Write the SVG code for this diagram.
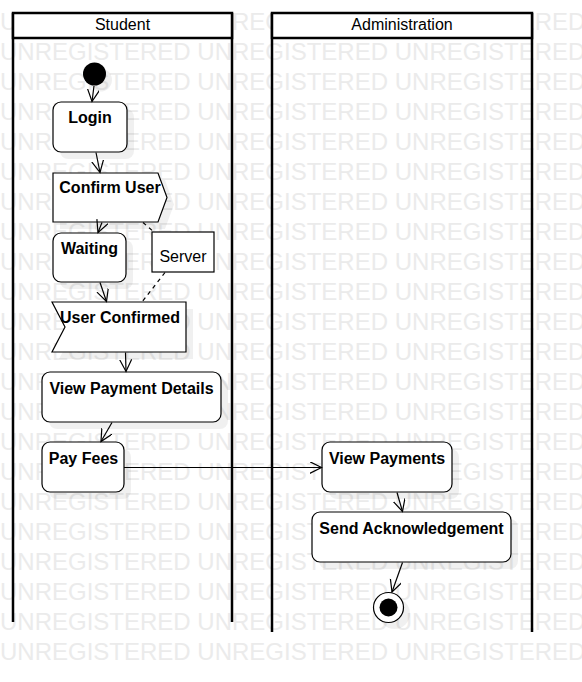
<svg xmlns="http://www.w3.org/2000/svg" width="582" height="682" viewBox="0 0 582 682">
<style>
.wm{font-family:"Liberation Sans",Arial,sans-serif;font-size:24px;fill:#ebebeb}
.lane{fill:none;stroke:#000;stroke-width:2.5}
.hdr{fill:#fff;stroke:#000;stroke-width:2.5}
.ht{font-family:"Liberation Sans",Arial,sans-serif;font-size:16px;fill:#000;text-anchor:middle}
.node{fill:#fff;stroke:#000;stroke-width:1.2}
.shd{fill:#000;fill-opacity:0.06;stroke:none}
.nt{font-family:"Liberation Sans",Arial,sans-serif;font-size:16px;font-weight:bold;fill:#000;text-anchor:middle}
.st{font-family:"Liberation Sans",Arial,sans-serif;font-size:16px;fill:#000;text-anchor:middle}
.edge{fill:none;stroke:#000;stroke-width:1.2}
.dash{fill:none;stroke:#000;stroke-width:1.2;stroke-dasharray:4 4}
</style>
<defs>
<marker id="arr" markerUnits="userSpaceOnUse" markerWidth="14" markerHeight="14" refX="12" refY="6" orient="auto">
<path d="M0,0 L12,6 L0,12" fill="none" stroke="#000" stroke-width="1.2"/>
</marker>
</defs>
<rect width="582" height="682" fill="#fff"/>
<g id="watermark">
<text class="wm" x="0" y="30">UNREGISTERED UNREGISTERED UNREGISTERED</text>
<text class="wm" x="0" y="60">UNREGISTERED UNREGISTERED UNREGISTERED</text>
<text class="wm" x="0" y="90">UNREGISTERED UNREGISTERED UNREGISTERED</text>
<text class="wm" x="0" y="120">UNREGISTERED UNREGISTERED UNREGISTERED</text>
<text class="wm" x="0" y="150">UNREGISTERED UNREGISTERED UNREGISTERED</text>
<text class="wm" x="0" y="180">UNREGISTERED UNREGISTERED UNREGISTERED</text>
<text class="wm" x="0" y="210">UNREGISTERED UNREGISTERED UNREGISTERED</text>
<text class="wm" x="0" y="240">UNREGISTERED UNREGISTERED UNREGISTERED</text>
<text class="wm" x="0" y="270">UNREGISTERED UNREGISTERED UNREGISTERED</text>
<text class="wm" x="0" y="300">UNREGISTERED UNREGISTERED UNREGISTERED</text>
<text class="wm" x="0" y="330">UNREGISTERED UNREGISTERED UNREGISTERED</text>
<text class="wm" x="0" y="360">UNREGISTERED UNREGISTERED UNREGISTERED</text>
<text class="wm" x="0" y="390">UNREGISTERED UNREGISTERED UNREGISTERED</text>
<text class="wm" x="0" y="420">UNREGISTERED UNREGISTERED UNREGISTERED</text>
<text class="wm" x="0" y="450">UNREGISTERED UNREGISTERED UNREGISTERED</text>
<text class="wm" x="0" y="480">UNREGISTERED UNREGISTERED UNREGISTERED</text>
<text class="wm" x="0" y="510">UNREGISTERED UNREGISTERED UNREGISTERED</text>
<text class="wm" x="0" y="540">UNREGISTERED UNREGISTERED UNREGISTERED</text>
<text class="wm" x="0" y="570">UNREGISTERED UNREGISTERED UNREGISTERED</text>
<text class="wm" x="0" y="600">UNREGISTERED UNREGISTERED UNREGISTERED</text>
<text class="wm" x="0" y="630">UNREGISTERED UNREGISTERED UNREGISTERED</text>
<text class="wm" x="0" y="660">UNREGISTERED UNREGISTERED UNREGISTERED</text>
</g>
<g id="lane-student">
<path class="lane" d="M13,13 V622 M232,13 V622"/>
<rect class="hdr" x="13" y="13" width="219" height="25"/>
<text class="ht" x="122.5" y="30">Student</text>
</g>
<g id="lane-administration">
<path class="lane" d="M272,13 V632 M532,13 V632"/>
<rect class="hdr" x="272" y="13" width="260" height="25"/>
<text class="ht" x="402" y="30">Administration</text>
</g>
<g id="start">
<circle cx="100.5" cy="80" r="11.5" class="shd"/>
<circle cx="94.5" cy="74" r="11.5" fill="#000"/>
</g>
<g id="login">
<rect class="shd" x="60" y="109" width="74" height="50" rx="8"/>
<rect class="node" x="53" y="102" width="74" height="50" rx="8"/>
<text class="nt" x="90" y="123">Login</text>
</g>
<g id="confirm-user">
<path class="shd" d="M60,180 H165 L174,204.5 L165,229 H60 Z"/>
<path class="node" d="M53,173 H158 L167,197.5 L158,222 H53 Z"/>
<text class="nt" x="110" y="192.5">Confirm User</text>
</g>
<g id="waiting">
<rect class="shd" x="60" y="240" width="73" height="49" rx="8"/>
<rect class="node" x="53" y="233" width="73" height="49" rx="8"/>
<text class="nt" x="89.5" y="253.5">Waiting</text>
</g>
<g id="server">
<rect class="node" x="152" y="232" width="62" height="40"/>
<text class="st" x="183" y="262">Server</text>
</g>
<g id="user-confirmed">
<path class="shd" d="M59,309 H193 V359 H59 L72,334 Z"/>
<path class="node" d="M52,302 H186 V352 H52 L65,327 Z"/>
<text class="nt" x="120" y="322.5">User Confirmed</text>
</g>
<g id="view-payment-details">
<rect class="shd" x="49" y="379" width="179" height="50" rx="8"/>
<rect class="node" x="42" y="372" width="179" height="50" rx="8"/>
<text class="nt" x="131.5" y="393.5">View Payment Details</text>
</g>
<g id="pay-fees">
<rect class="shd" x="49" y="449" width="82" height="50" rx="8"/>
<rect class="node" x="42" y="442" width="82" height="50" rx="8"/>
<text class="nt" x="83.5" y="463.5">Pay Fees</text>
</g>
<g id="view-payments">
<rect class="shd" x="329" y="449" width="130" height="50" rx="8"/>
<rect class="node" x="322" y="442" width="130" height="50" rx="8"/>
<text class="nt" x="387" y="463.5">View Payments</text>
</g>
<g id="send-acknowledgement">
<rect class="shd" x="319" y="519" width="199" height="50" rx="8"/>
<rect class="node" x="312" y="512" width="199" height="50" rx="8"/>
<text class="nt" x="411.5" y="533.5">Send Acknowledgement</text>
</g>
<g id="end">
<circle cx="394.5" cy="613.5" r="15.5" class="shd"/>
<circle cx="388.5" cy="607.5" r="15" fill="#fff" stroke="#000" stroke-width="1.2"/>
<circle cx="388.5" cy="607.5" r="9" fill="#000"/>
</g>
<g id="connectors">
<path class="edge" marker-end="url(#arr)" d="M94,86 L92,101.5"/>
<path class="edge" marker-end="url(#arr)" d="M96,152.5 L100,172.5"/>
<path class="edge" marker-end="url(#arr)" d="M102,222.5 L98,232.5"/>
<path class="edge" marker-end="url(#arr)" d="M100,282.5 L106.5,301.5"/>
<path class="edge" marker-end="url(#arr)" d="M125.5,352.5 L126,371.5"/>
<path class="edge" marker-end="url(#arr)" d="M112,422.5 L101,441.5"/>
<path class="edge" marker-end="url(#arr)" d="M124,467.5 L321.5,467.5"/>
<path class="edge" marker-end="url(#arr)" d="M397,492.5 L402.5,511.5"/>
<path class="edge" marker-end="url(#arr)" d="M402.5,562.5 L392,592"/>
<path class="dash" d="M143,222.5 L154,232"/>
<path class="dash" d="M165,272.5 L142,302"/>
</g>
</svg>
